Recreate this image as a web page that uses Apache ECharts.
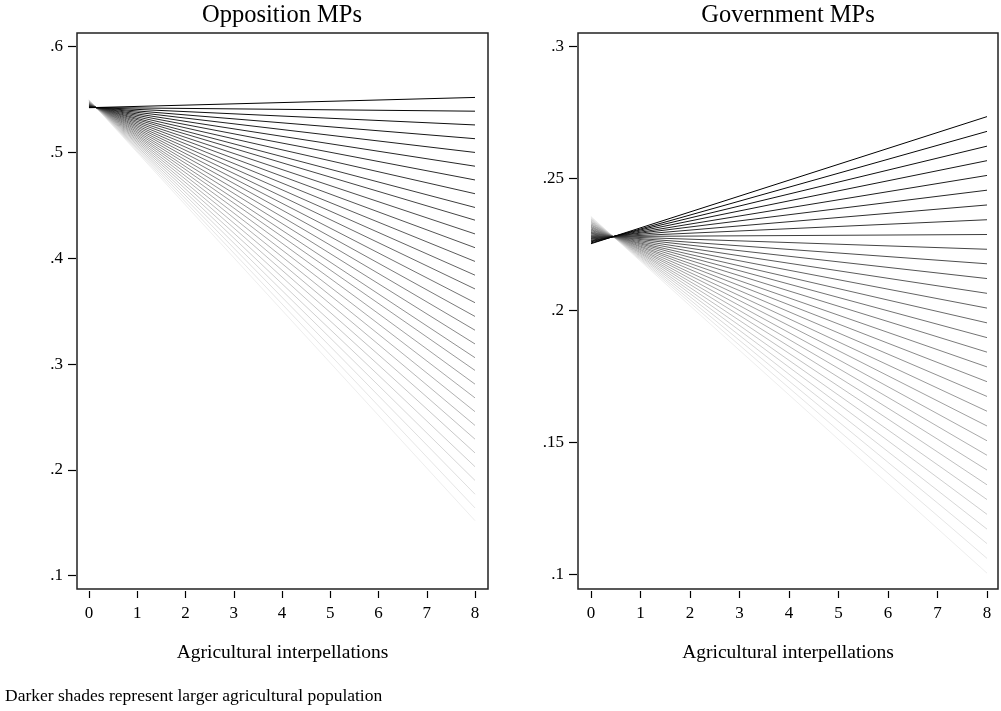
<!DOCTYPE html>
<html>
<head>
<meta charset="utf-8">
<script src="https://cdn.jsdelivr.net/npm/echarts@6/dist/echarts.min.js"></script>
<style>
  html, body { margin: 0; padding: 0; background: #fff; }
  #chart { width: 1001px; height: 711px; }
</style>
</head>
<body>
<div id="chart"></div>
<script>
// Predicted values at 0 and 8 agricultural interpellations,
// one entry per agricultural-population level (index 0 = largest, darkest).
const oppStart = [0.5423, 0.5425, 0.5428, 0.5430, 0.5433, 0.5435, 0.5438, 0.5440,
                  0.5442, 0.5445, 0.5447, 0.5450, 0.5452, 0.5454, 0.5457, 0.5459,
                  0.5462, 0.5464, 0.5467, 0.5469, 0.5471, 0.5474, 0.5476, 0.5479,
                  0.5481, 0.5484, 0.5486, 0.5488, 0.5491, 0.5493, 0.5496, 0.5498];
const oppEnd   = [0.552, 0.539, 0.526, 0.513, 0.500, 0.487, 0.474, 0.461,
                  0.448, 0.436, 0.423, 0.410, 0.397, 0.384, 0.371, 0.358,
                  0.345, 0.332, 0.319, 0.306, 0.294, 0.281, 0.268, 0.255,
                  0.242, 0.229, 0.216, 0.203, 0.190, 0.177, 0.164, 0.152];
const govStart = [0.2253, 0.2256, 0.2260, 0.2263, 0.2266, 0.2270, 0.2273, 0.2276,
                  0.2280, 0.2283, 0.2286, 0.2290, 0.2293, 0.2296, 0.2299, 0.2303,
                  0.2306, 0.2309, 0.2313, 0.2316, 0.2319, 0.2323, 0.2326, 0.2329,
                  0.2333, 0.2336, 0.2339, 0.2343, 0.2346, 0.2349, 0.2353, 0.2356];
const govEnd   = [0.2735, 0.2679, 0.2623, 0.2568, 0.2512, 0.2456, 0.2400, 0.2344,
                  0.2288, 0.2232, 0.2177, 0.2121, 0.2065, 0.2009, 0.1953, 0.1897,
                  0.1842, 0.1786, 0.1730, 0.1674, 0.1618, 0.1562, 0.1506, 0.1451,
                  0.1395, 0.1339, 0.1283, 0.1227, 0.1171, 0.1116, 0.1060, 0.1004];

const xRange = [0, 8];
const xTicks = [0, 1, 2, 3, 4, 5, 6, 7, 8];
const oppYTicks = [0.1, 0.2, 0.3, 0.4, 0.5, 0.6];
const govYTicks = [0.1, 0.15, 0.2, 0.25, 0.3];

const FONT = '"Liberation Serif", "DejaVu Serif", serif';
const tickFmt = v => String(+v.toFixed(3)).replace(/^0\./, '.');

// Shade of gray: black for the largest agricultural population, near-white for the smallest.
function shade(i, n) {
  const g = Math.round(238 * i / (n - 1));
  return 'rgb(' + g + ',' + g + ',' + g + ')';
}

function xAxisFor(gridIndex, min, max) {
  return {
    gridIndex, type: 'value', min, max, offset: 2,
    name: 'Agricultural interpellations', nameLocation: 'middle', nameGap: 52,
    nameTextStyle: { fontFamily: FONT, fontSize: 19.5, color: '#000' },
    axisLine: { show: false, onZero: false },
    axisTick: { show: true, inside: false, length: 7, customValues: xTicks, lineStyle: { color: '#000', width: 1.2 } },
    axisLabel: { customValues: xTicks, margin: 14, fontFamily: FONT, fontSize: 17, color: '#000', formatter: tickFmt },
    splitLine: { show: false }
  };
}
function yAxisFor(gridIndex, min, max, ticks) {
  return {
    gridIndex, type: 'value', position: 'left', min, max, offset: 1,
    axisLine: { show: false, onZero: false },
    axisTick: { show: true, inside: false, length: 8, customValues: ticks, lineStyle: { color: '#000', width: 1.2 } },
    axisLabel: { customValues: ticks, margin: 13, fontFamily: FONT, fontSize: 17, color: '#000', formatter: tickFmt },
    splitLine: { show: false }
  };
}

const series = [];
function addLines(starts, ends, axisIndex) {
  const n = starts.length;
  // lighter lines first so darker ones sit on top
  for (let i = n - 1; i >= 0; i--) {
    series.push({
      type: 'line', xAxisIndex: axisIndex, yAxisIndex: axisIndex,
      data: [[xRange[0], starts[i]], [xRange[1], ends[i]]],
      showSymbol: false, symbol: 'none', silent: true,
      lineStyle: { color: shade(i, n), width: 1 },
      z: 2
    });
  }
}
addLines(oppStart, oppEnd, 0);
addLines(govStart, govEnd, 1);

const chart = echarts.init(document.getElementById('chart'), null, { renderer: 'canvas' });
chart.setOption({
  animation: false,
  backgroundColor: '#fff',
  title: [
    { text: 'Opposition MPs', left: 282, top: 3, padding: 0, textAlign: 'center',
      textStyle: { fontFamily: FONT, fontSize: 24.5, fontWeight: 'normal', color: '#000' } },
    { text: 'Government MPs', left: 788, top: 3, padding: 0, textAlign: 'center',
      textStyle: { fontFamily: FONT, fontSize: 24.5, fontWeight: 'normal', color: '#000' } },
    { text: 'Darker shades represent larger agricultural population', left: 5, top: 687, padding: 0,
      textStyle: { fontFamily: FONT, fontSize: 17.5, fontWeight: 'normal', color: '#000' } }
  ],
  grid: [
    { left: 77, top: 33, width: 411, height: 556, show: true, borderColor: '#222', borderWidth: 1.5, backgroundColor: '#fff' },
    { left: 578, top: 33, width: 420, height: 556, show: true, borderColor: '#222', borderWidth: 1.5, backgroundColor: '#fff' }
  ],
  xAxis: [xAxisFor(0, -0.2487, 8.2694), xAxisFor(1, -0.2626, 8.222)],
  yAxis: [yAxisFor(0, 0.0874, 0.6129, oppYTicks), yAxisFor(1, 0.0944, 0.3052, govYTicks)],
  series
});
</script>
</body>
</html>
